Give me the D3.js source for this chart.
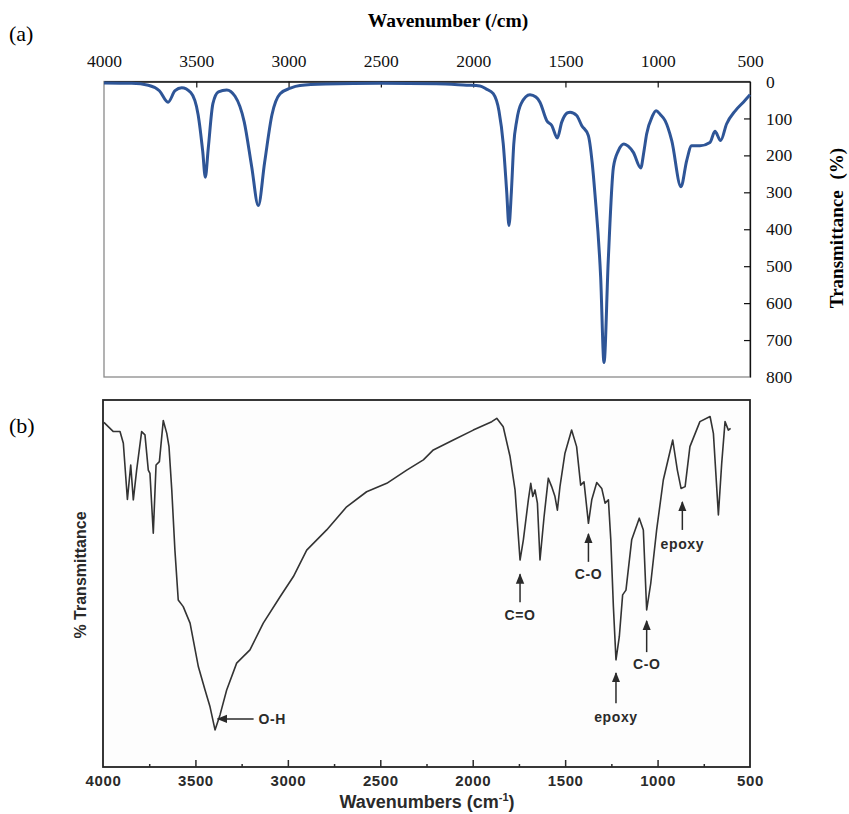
<!DOCTYPE html>
<html>
<head>
<meta charset="utf-8">
<script src="https://cdn.jsdelivr.net/npm/d3@7"></script>
<style>
  body { margin: 0; background: #fff; }
  svg { display: block; }
</style>
</head>
<body>
<div id="chart"></div>
<script>
// ---- panel (a): simulated spectrum ----
const specAWn = [4000, 3850, 3760, 3700, 3653, 3615, 3579, 3530, 3490, 3465, 3451, 3435, 3410, 3380, 3335,
  3290, 3240, 3200, 3164, 3130, 3090, 3046, 2990, 2938, 2800, 2500, 2200, 2035, 1963, 1930, 1891, 1860,
  1837, 1818, 1806, 1793, 1780, 1764, 1740, 1692, 1660, 1638, 1601, 1574, 1544, 1520, 1490, 1475, 1439,
  1412, 1376, 1355, 1340, 1309, 1291, 1268, 1240, 1213, 1183, 1160, 1132, 1092, 1075, 1060, 1030, 1009,
  985, 960, 924, 874, 843, 816, 771, 717, 690, 659, 627, 581, 536, 500];
const specAVal = [4, 5, 10, 25, 56, 25, 17, 30, 90, 190, 259, 180, 60, 28, 23,
  40, 110, 230, 336, 220, 90, 33, 18, 11, 7, 5, 6, 10, 12, 20, 33, 80,
  168, 300, 390, 300, 170, 106, 60, 36, 42, 56, 106, 119, 153, 110, 85, 83, 92,
  119, 146, 220, 305, 531, 761, 485, 232, 187, 169, 175, 192, 234, 190, 142, 95, 79,
  90, 106, 160, 285, 214, 174, 174, 165, 135, 160, 115, 80, 56, 36];
const aTopTicks = [4000, 3500, 3000, 2500, 2000, 1500, 1000, 500];
const aRightTicks = [0, 100, 200, 300, 400, 500, 600, 700, 800];

// ---- panel (b): measured spectrum (% transmittance) ----
const specBWn = [3995, 3944, 3908, 3890, 3868, 3850, 3836, 3818, 3791, 3773, 3755, 3746, 3728, 3713, 3695,
  3674, 3655, 3643, 3628, 3611, 3593, 3566, 3529, 3484, 3448, 3421, 3394, 3367, 3331, 3277, 3205, 3133,
  3042, 2970, 2898, 2790, 2682, 2574, 2465, 2357, 2267, 2213, 2105, 1997, 1897, 1870, 1835, 1798, 1771,
  1744, 1726, 1699, 1686, 1675, 1663, 1650, 1636, 1614, 1591, 1573, 1555, 1542, 1528, 1501, 1465, 1438,
  1416, 1398, 1374, 1356, 1329, 1302, 1284, 1266, 1253, 1239, 1225, 1207, 1189, 1171, 1140, 1099, 1077,
  1059, 1037, 1005, 969, 918, 893, 873, 851, 825, 771, 716, 698, 671, 653, 635, 617, 605];
const specBVal = [93.9, 91.4, 91.4, 88.2, 72.9, 82.3, 72.8, 80.9, 91.4, 90.5, 80.9, 80.0, 63.7, 82.3, 83.2,
  94.4, 90.9, 87.3, 75.5, 59.1, 45.5, 43.7, 39.2, 27.3, 21.0, 16.4, 10.1, 14.2, 21.0, 28.3, 31.9, 39.2,
  46.4, 51.9, 59.1, 64.6, 70.9, 75.0, 77.3, 80.9, 83.7, 86.4, 89.1, 91.8, 94.1, 95.0, 92.7, 84.6, 75.5,
  56.4, 61.9, 72.8, 77.3, 73.7, 75.5, 71.9, 56.4, 68.2, 78.7, 76.4, 73.7, 70.0, 76.4, 85.5, 91.8, 87.3,
  76.8, 77.7, 66.4, 72.8, 77.5, 75.9, 71.9, 72.8, 61.9, 43.7, 29.2, 35.5, 46.9, 48.2, 61.9, 67.8, 64.6,
  42.8, 50.0, 64.6, 78.2, 89.1, 80.9, 75.9, 76.4, 87.3, 94.1, 95.5, 90.9, 68.7, 82.8, 94.1, 91.8, 92.3];
const bMajorTicks = [4000, 3500, 3000, 2500, 2000, 1500, 1000, 500];
const bMinorTicks = [3750, 3250, 2750, 2250, 1750, 1250, 750];

// band annotations: label, wavenumber, arrow tip / tail and label value (in % units)
const bandLabels = ["C=O", "C-O", "epoxy", "C-O", "epoxy"];
const bandWn = [1744, 1374, 1225, 1059, 866];
const bandTip = [52.5, 63.5, 25.6, 39.8, 72.2];
const bandTail = [44.9, 55.9, 17.4, 31.3, 64.6];
const bandText = [41.5, 52.5, 13.5, 28.0, 60.8];
const ohLabel = "O-H";
const ohWn = 3380;
const ohVal = 13.1;

const W = 849, H = 814;
const svg = d3.select("#chart").append("svg")
  .attr("width", W)
  .attr("height", H);

svg.append("rect").attr("width", W).attr("height", H).attr("fill", "#fff");

// ================= panel (a) =================
const serif = "'Liberation Serif', 'Times New Roman', serif";
const xA = d3.scaleLinear().domain([4000, 500]).range([104, 750]);
const yA = d3.scaleLinear().domain([0, 800]).range([81.5, 377]);

// plot area border (grey, like a spreadsheet chart)
svg.append("rect")
  .attr("x", xA(4000)).attr("y", yA(0))
  .attr("width", xA(500) - xA(4000)).attr("height", yA(800) - yA(0))
  .attr("fill", "none").attr("stroke", "#8a8a8a").attr("stroke-width", 1.3);

const topAxis = svg.append("g")
  .attr("transform", `translate(0,${yA(0)})`)
  .call(d3.axisTop(xA).tickValues(aTopTicks).tickSizeInner(-6).tickSizeOuter(0).tickPadding(15)
    .tickFormat(d3.format("d")));
topAxis.select(".domain").attr("stroke", "#111").attr("stroke-width", 1.3);
topAxis.selectAll(".tick line").attr("stroke", "#111").attr("stroke-width", 1.2)
  .filter(d => d === 4000 || d === 500).remove();
topAxis.selectAll("text").attr("font-family", serif).attr("font-size", 17.5).attr("fill", "#111");

const rightAxis = svg.append("g")
  .attr("transform", `translate(${xA(500)},0)`)
  .call(d3.axisRight(yA).tickValues(aRightTicks).tickSizeInner(-6).tickSizeOuter(0).tickPadding(16)
    .tickFormat(d3.format("d")));
rightAxis.select(".domain").attr("stroke", "#111").attr("stroke-width", 1.3);
rightAxis.selectAll(".tick line").attr("stroke", "#111").attr("stroke-width", 1.2)
  .filter(d => d === 0 || d === 800).remove();
rightAxis.selectAll("text").attr("font-family", serif).attr("font-size", 17.5).attr("fill", "#111");

const lineA = d3.line()
  .x((d, i) => xA(specAWn[i]))
  .y(d => yA(d))
  .curve(d3.curveMonotoneX);

svg.append("path")
  .datum(specAVal)
  .attr("d", lineA)
  .attr("fill", "none")
  .attr("stroke", "#2e5597")
  .attr("stroke-width", 3)
  .attr("stroke-linejoin", "round");

svg.append("text")
  .attr("x", 448).attr("y", 27)
  .attr("text-anchor", "middle")
  .attr("font-family", serif).attr("font-size", 19.5).attr("font-weight", "bold")
  .text("Wavenumber (/cm)");

svg.append("text")
  .attr("transform", "translate(843,228) rotate(-90)")
  .attr("text-anchor", "middle")
  .attr("font-family", serif).attr("font-size", 19).attr("font-weight", "bold")
  .attr("word-spacing", 6)
  .text("Transmittance (%)");

svg.append("text")
  .attr("x", 9).attr("y", 41)
  .attr("font-family", serif).attr("font-size", 22)
  .text("(a)");

// ================= panel (b) =================
const sans = "'Liberation Sans', Arial, sans-serif";
const ink = "#2a2a2a";
const xB = d3.scaleLinear().domain([4000, 500]).range([103, 750]);
const yB = d3.scaleLinear().domain([0, 100]).range([767, 400]);

svg.append("rect")
  .attr("x", xB(4000)).attr("y", yB(100))
  .attr("width", xB(500) - xB(4000)).attr("height", yB(0) - yB(100))
  .attr("fill", "#fdfdfd").attr("stroke", "#222").attr("stroke-width", 1.8);

const bottomAxis = svg.append("g")
  .attr("transform", `translate(0,${yB(0)})`)
  .call(d3.axisBottom(xB).tickValues(bMajorTicks).tickSizeInner(-7).tickSizeOuter(0).tickPadding(8)
    .tickFormat(d3.format("d")));
bottomAxis.select(".domain").remove();
bottomAxis.selectAll(".tick line").attr("stroke", ink).attr("stroke-width", 1.5)
  .filter(d => d === 4000 || d === 500).remove();
bottomAxis.selectAll("text")
  .attr("font-family", sans).attr("font-size", 15).attr("font-weight", "bold")
  .attr("letter-spacing", 0.6).attr("fill", ink);

svg.append("g")
  .attr("transform", `translate(0,${yB(0)})`)
  .call(d3.axisBottom(xB).tickValues(bMinorTicks).tickSizeInner(-3).tickSizeOuter(0).tickFormat(""))
  .call(g => g.select(".domain").remove())
  .selectAll(".tick line").attr("stroke", ink).attr("stroke-width", 1.5);

const lineB = d3.line()
  .x((d, i) => xB(specBWn[i]))
  .y(d => yB(d));

svg.append("path")
  .datum(specBVal)
  .attr("d", lineB)
  .attr("fill", "none")
  .attr("stroke", "#333")
  .attr("stroke-width", 1.6)
  .attr("stroke-linejoin", "round");

// arrowhead
svg.append("defs").append("marker")
  .attr("id", "arrow")
  .attr("viewBox", "0 0 10 10")
  .attr("refX", 9).attr("refY", 5)
  .attr("markerWidth", 7).attr("markerHeight", 7)
  .attr("orient", "auto")
  .append("path")
  .attr("d", "M0,1 L10,5 L0,9 Z")
  .attr("fill", ink);

bandLabels.forEach((lab, i) => {
  svg.append("line")
    .attr("x1", xB(bandWn[i])).attr("y1", yB(bandTail[i]))
    .attr("x2", xB(bandWn[i])).attr("y2", yB(bandTip[i]))
    .attr("stroke", ink).attr("stroke-width", 1.5)
    .attr("marker-end", "url(#arrow)");
  svg.append("text")
    .attr("x", xB(bandWn[i])).attr("y", yB(bandText[i]))
    .attr("dy", "0.35em")
    .attr("text-anchor", "middle")
    .attr("font-family", sans).attr("font-size", 14).attr("font-weight", "bold")
    .attr("letter-spacing", 0.6).attr("fill", ink)
    .text(lab);
});

// O-H arrow pointing left to the broad minimum
svg.append("line")
  .attr("x1", xB(ohWn) + 36).attr("y1", yB(ohVal))
  .attr("x2", xB(ohWn)).attr("y2", yB(ohVal))
  .attr("stroke", ink).attr("stroke-width", 1.5)
  .attr("marker-end", "url(#arrow)");
svg.append("text")
  .attr("x", xB(ohWn) + 41).attr("y", yB(ohVal))
  .attr("dy", "0.35em")
  .attr("font-family", sans).attr("font-size", 14).attr("font-weight", "bold")
  .attr("letter-spacing", 0.6).attr("fill", ink)
  .text(ohLabel);

const xTitle = svg.append("text")
  .attr("x", 427).attr("y", 808)
  .attr("text-anchor", "middle")
  .attr("font-family", sans).attr("font-size", 18).attr("font-weight", "bold")
  .attr("fill", ink);
xTitle.append("tspan").text("Wavenumbers (cm");
xTitle.append("tspan").attr("font-size", 11).attr("dy", -7).text("-1");
xTitle.append("tspan").attr("dy", 7).text(")");

svg.append("text")
  .attr("transform", "translate(86,575) rotate(-90)")
  .attr("text-anchor", "middle")
  .attr("font-family", sans).attr("font-size", 16).attr("font-weight", "bold")
  .attr("fill", ink)
  .text("% Transmittance");

svg.append("text")
  .attr("x", 9).attr("y", 433)
  .attr("font-family", serif).attr("font-size", 22)
  .text("(b)");
</script>
</body>
</html>
